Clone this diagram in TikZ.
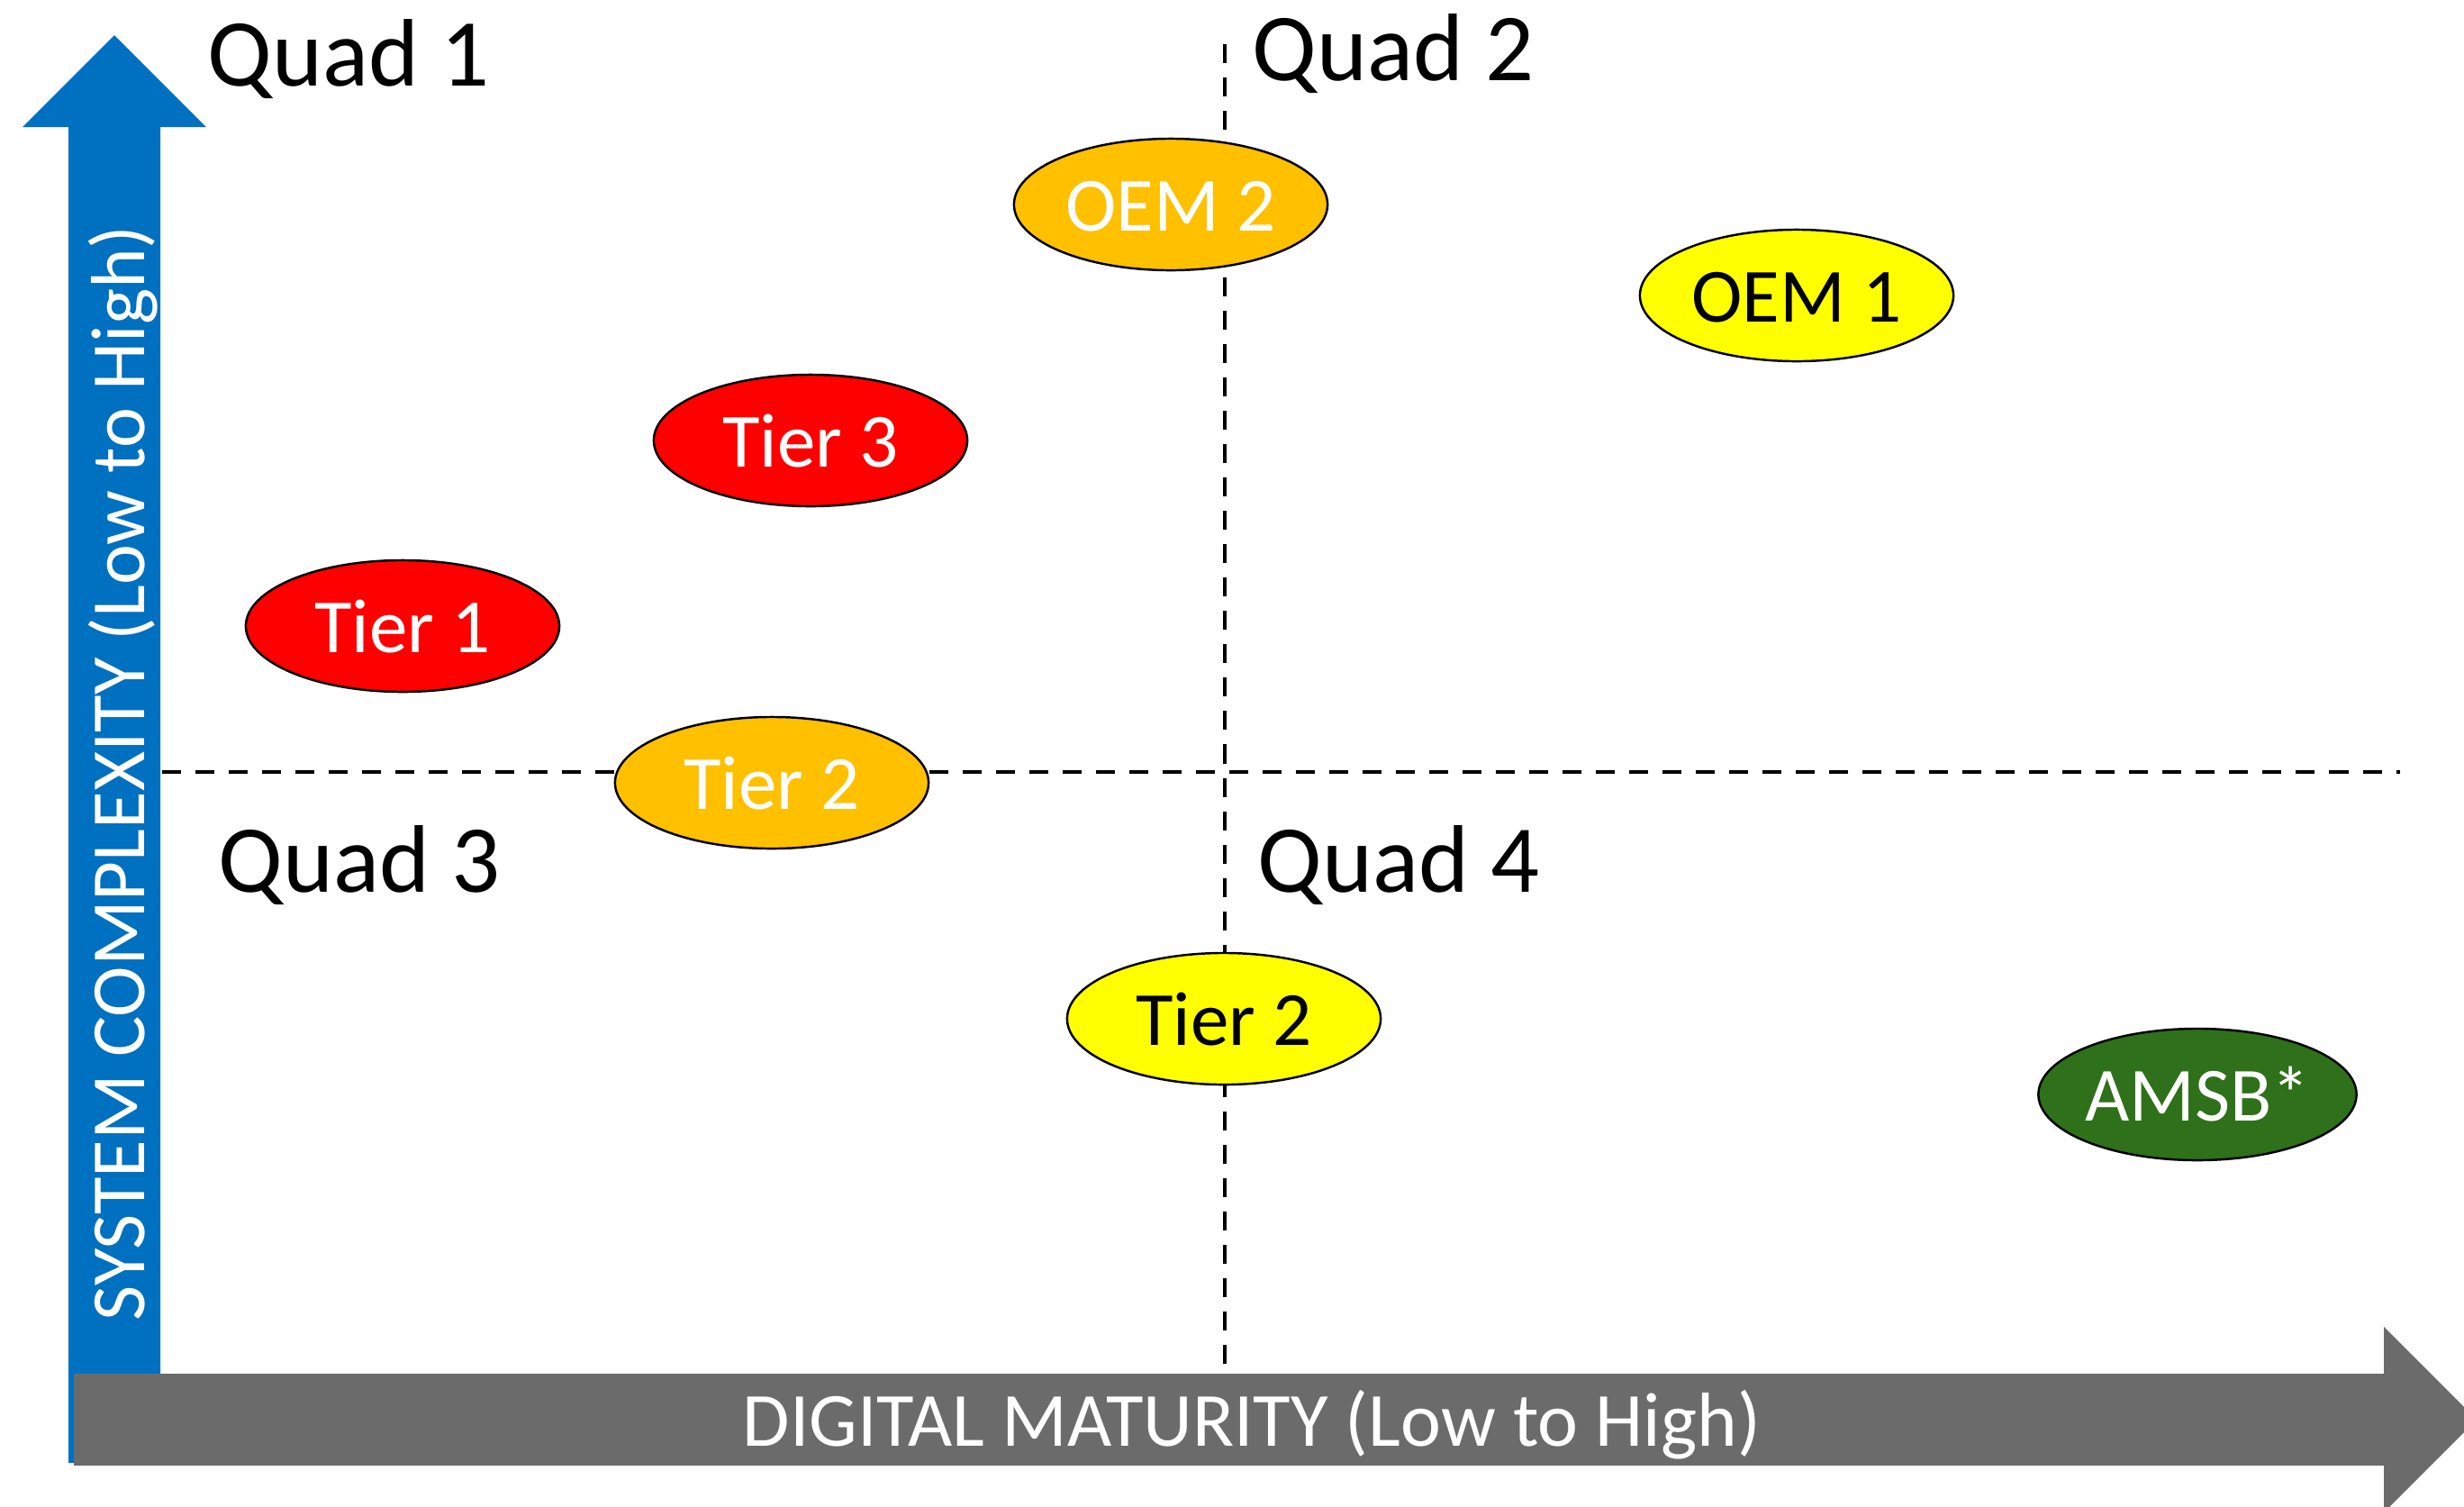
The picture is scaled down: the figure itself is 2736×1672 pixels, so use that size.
\documentclass[tikz,border=0pt]{standalone}
\usepackage{fontspec}
\setmainfont{Carlito}
\usetikzlibrary{shapes.geometric}
\definecolor{axisblue}{RGB}{0,112,192}
\definecolor{axisgray}{RGB}{107,107,107}
\definecolor{amber}{RGB}{255,192,0}
\definecolor{lemon}{RGB}{255,255,0}
\definecolor{scarlet}{RGB}{255,0,0}
\definecolor{forest}{RGB}{47,112,26}
\begin{document}
\begin{tikzpicture}[x=0.01cm,y=-0.01cm,
  bubble/.style={ellipse, draw=black, line width=0.7pt,
    minimum width=3.48cm, minimum height=1.46cm, inner sep=0pt,
    font=\fontsize{24.2}{29}\selectfont, text height=17pt, text depth=0pt},
  quadlabel/.style={anchor=base west, inner sep=0pt,
    font=\fontsize{30.3}{36}\selectfont},
  divider/.style={line width=1.4pt, dash pattern=on 0.21cm off 0.16cm},
  axislabel/.style={anchor=base, inner sep=0pt, text=white,
    font=\fontsize{24.2}{29}\selectfont}]
\useasboundingbox (0,0) rectangle (2736,1672);

% quadrant dividers
\coordinate (vtop) at (1360,49);
\coordinate (vbot) at (1360,1525);
\coordinate (hleft) at (180,857);
\coordinate (hright) at (2665,857);
\draw[divider] (vtop) -- (vbot);
\draw[divider] (hleft) -- (hright);

% axes as block arrows
\begin{scope}
  \clip (0,0) rectangle (2736,1672);
  \fill[axisblue] (76,1624) -- (76,141) -- (25,141) -- (127,39) -- (229,141)
    -- (178,141) -- (178,1624) -- cycle;
  \fill[axisgray] (82,1525) -- (2647,1525) -- (2647,1473) -- (2750,1576)
    -- (2647,1679) -- (2647,1627) -- (82,1627) -- cycle;
\end{scope}
\node[axislabel] (xlabel) at (1390,1605) {DIGITAL MATURITY (Low to High)};
\node[axislabel, rotate=90] (ylabel) at (160,858) {SYSTEM COMPLEXITY (Low to High)};

% quadrant names
\node[quadlabel] (q1) at (230,95) {Quad 1};
\node[quadlabel] (q2) at (1390,89) {Quad 2};
\node[quadlabel] (q3) at (242,990) {Quad 3};
\node[quadlabel] (q4) at (1396,990) {Quad 4};

% companies
\node[bubble, fill=amber, text=white] (oem2) at (1300,227) {OEM 2};
\node[bubble, fill=lemon] (oem1) at (1995,328) {OEM 1};
\node[bubble, fill=scarlet, text=white] (tier3) at (900,489) {Tier 3};
\node[bubble, fill=scarlet, text=white] (tier1) at (447,695) {Tier 1};
\node[bubble, fill=amber, text=white] (tier2a) at (857,869) {Tier 2};
\node[bubble, fill=lemon] (tier2b) at (1359,1131) {Tier 2};
\node[bubble, fill=forest, text=white] (amsb) at (2440,1215) {AMSB*};
\end{tikzpicture}
\end{document}
